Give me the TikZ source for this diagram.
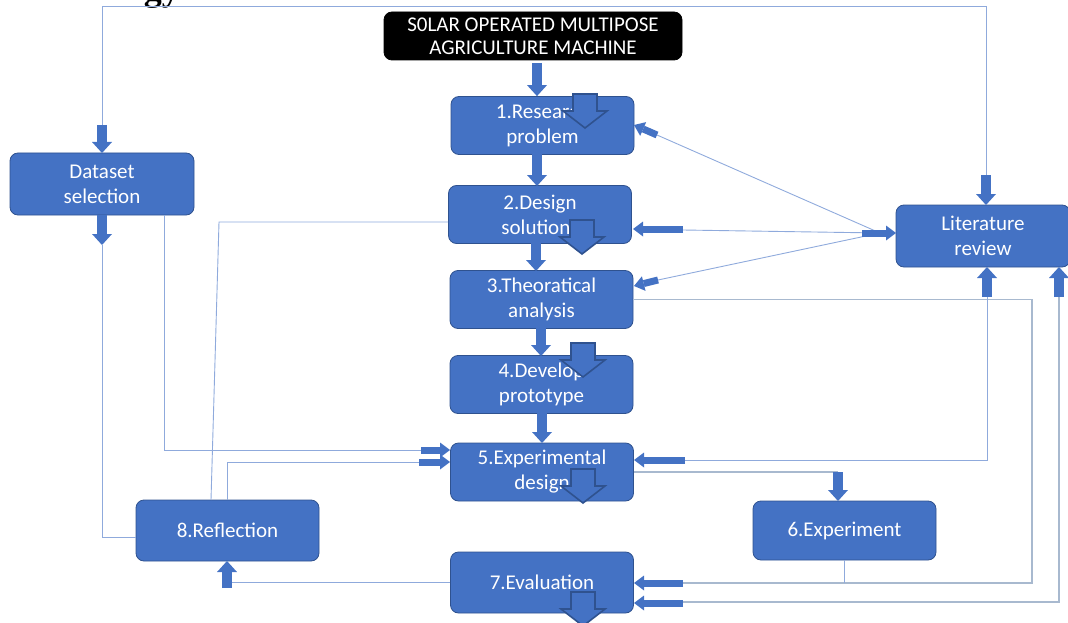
\documentclass[tikz,border=0pt]{standalone}
\usepackage{fontspec}
\setmainfont{Carlito}
\newfontfamily\headfont{Liberation Serif}
\usetikzlibrary{arrows.meta}
\definecolor{obl}{HTML}{4472C4}
\definecolor{odk}{HTML}{2F528F}
\definecolor{lnk}{HTML}{8FAADC}
\definecolor{lnkg}{HTML}{A8B9CF}
\tikzset{
  box/.style={draw=odk, line width=0.8pt, fill=obl, rounded corners=8pt, text=white, align=center,
    font=\fontsize{21}{25}\selectfont, minimum width=183pt, minimum height=58pt, inner sep=0pt},
  thinln/.style={draw=lnk, line width=0.9pt},
  grayln/.style={draw=lnkg, line width=1.3pt},
  varr/.style={draw=obl, line width=10pt, -{Triangle[width=20pt,length=11pt,line width=0pt]}},
  harr/.style={draw=obl, line width=7pt, -{Triangle[width=15pt,length=10pt,line width=0pt]}},
  bigarr/.style={fill=obl, draw=odk, line width=1.6pt, line join=miter},
}
\newcommand{\bigdownarrow}[2]{%
  \draw[bigarr, shift={(#1,#2)}] (-12,-34) -- (12,-34) -- (12,-17) -- (22,-17) -- (0,0) -- (-22,-17) -- (-12,-17) -- cycle;}
\begin{document}
\begin{tikzpicture}[x=1pt, y=-1pt]
\useasboundingbox (0,0) rectangle (1068,623);
\begin{scope}
\clip (0,0) rectangle (1068,623);
% partial heading
\node[anchor=base east, inner sep=0pt, font=\headfont\bfseries\fontsize{36}{36}\selectfont] (head) at (180,1) {gy};

% nodes
\node[box, fill=black, draw=black, minimum width=298pt, minimum height=48pt, font=\fontsize{21}{23}\selectfont] (title) at (533,36) {S0LAR OPERATED MULTIPOSE\\AGRICULTURE MACHINE};
\node[box] (n1) at (542.5,125.5) {1.Research\\problem};
\node[box] (n2) at (540,214.5) {2.Design\\solutions};
\node[box] (n3) at (541.5,299.5) {3.Theoratical\\analysis};
\node[box] (n4) at (541.5,384.5) {4.Develop\\prototype};
\node[box] (n5) at (542,472) {5.Experimental\\design};
\node[box, minimum height=61pt] (n7) at (542,582.5) {7.Evaluation};
\node[box, minimum height=59pt] (n6) at (844.5,530.5) {6.Experiment};
\node[box, minimum height=61pt] (n8) at (227.5,530.5) {8.Reflection};
\node[box, minimum width=184pt, minimum height=62pt] (ds) at (102,184) {Dataset\\selection};
\node[box, minimum width=174pt, minimum height=62pt] (lit) at (983,236) {Literature\\review};

% named corner points
\coordinate (tl) at (102,125);
\coordinate (tr) at (986,175);
\coordinate (litin) at (880,233);

% thin connectors
\draw[thinln] (tl) -- (102,6) -- (986,6) -- (tr);
\draw[thinln] (102,245) -- (102,537) -- (n8.west |- 0,537);
\draw[thinln] (164,215) -- (164,450) -- (421,450);
\draw[thinln] (227,500) -- (227,462) -- (419,462);
\draw[thinln] (211,500) -- (219,222) -- (n2.west |- 0,222);
\draw[thinln] (n7.west) -- (232,582.5);
\draw[thinln] (litin) -- (657,135);
\draw[thinln] (litin) -- (683,230);
\draw[thinln] (litin) -- (658,280);
\draw[grayln] (n3.east) -- (1032,299.5) -- (1032,583) -- (683,583);
\draw[thinln] (n6.south) -- (844.5,583);
\draw[thinln] (987,297) -- (987,460) -- (685,460);
\draw[grayln] (1059,297) -- (1059,602) -- (683,602);
\draw[grayln] (634,472) -- (838,472);

% small block arrows
\draw[varr] (537,63) -- (n1.north -| 537,0);
\draw[varr] (537,154) -- (537,186);
\draw[varr] (536,240) -- (536,271);
\draw[varr] (541,328) -- (541,356);
\draw[varr] (542,413) -- (542,443);
\draw[varr] (tl) -- (102,153);
\draw[varr] (102,215) -- (102,245);
\draw[varr] (tr) -- (986,205);
\draw[harr] (862,233) -- (896,233);
\draw[harr] (657,135) -- (634,125);
\draw[harr] (683,229) -- (633,229);
\draw[harr] (658,280) -- (634,286);
\draw[varr] (987,297) -- (987,267);
\draw[varr] (1059,297) -- (1059,267);
\draw[harr] (685,460) -- (634,460);
\draw[varr] (838,472) -- (838,501);
\draw[harr] (421,450) -- (450,450);
\draw[harr] (419,462) -- (450,462);
\draw[harr] (683,583) -- (634,583);
\draw[harr] (683,603) -- (634,603);
\draw[varr] (227,588) -- (227,561);

% large outlined block arrows
\bigdownarrow{585}{128}
\bigdownarrow{582}{254}
\bigdownarrow{583}{377}
\bigdownarrow{583}{503}
\bigdownarrow{583}{626}
\end{scope}
\end{tikzpicture}
\end{document}
